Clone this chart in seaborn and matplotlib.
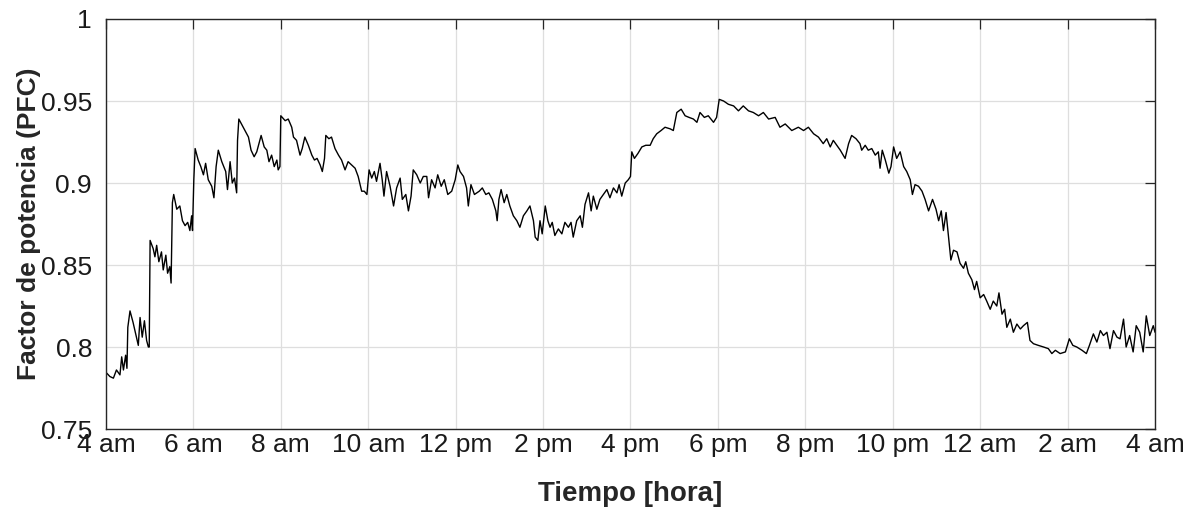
import numpy as np
import pandas as pd
from matplotlib import pyplot as plt
from matplotlib.ticker import FormatStrFormatter
import seaborn as sns

# hours since 4 am
horas = [0.02, 0.09, 0.17, 0.24, 0.32, 0.36, 0.40, 0.45, 0.48, 0.50, 0.55, 0.62, 0.68, 0.74,
         0.78, 0.83, 0.88, 0.93, 0.97, 0.99, 1.01, 1.08, 1.12, 1.16, 1.21, 1.27, 1.31, 1.37,
         1.41, 1.46, 1.49, 1.52, 1.55, 1.62, 1.69, 1.75, 1.81, 1.87, 1.92, 1.96, 1.98, 2.01,
         2.04, 2.11, 2.17, 2.23, 2.28, 2.34, 2.42, 2.47, 2.52, 2.57, 2.65, 2.74, 2.78, 2.84,
         2.89, 2.94, 2.99, 3.01, 3.04, 3.10, 3.18, 3.26, 3.32, 3.39, 3.45, 3.55, 3.62, 3.68,
         3.73, 3.79, 3.85, 3.91, 3.94, 3.98, 4.00, 4.10,
         4.17, 4.25, 4.29, 4.36, 4.44, 4.49, 4.55, 4.63, 4.71, 4.77, 4.83, 4.90, 4.95, 5.00,
         5.03, 5.10, 5.16, 5.24, 5.32, 5.39, 5.47, 5.54, 5.62, 5.70, 5.77, 5.85, 5.91, 5.97,
         6.02, 6.08, 6.14, 6.19, 6.27, 6.32, 6.36, 6.42, 6.50, 6.58, 6.65, 6.73, 6.78, 6.86,
         6.92, 6.98, 7.03, 7.11, 7.19, 7.26, 7.34, 7.38, 7.45, 7.53, 7.59, 7.67, 7.74, 7.82,
         7.91, 7.99, 8.05, 8.10, 8.18, 8.25, 8.29, 8.35, 8.43,
         8.54, 8.61, 8.69, 8.76, 8.84, 8.92, 8.95, 8.99, 9.04, 9.11, 9.17, 9.24, 9.32, 9.40,
         9.47, 9.55, 9.63, 9.70, 9.78, 9.82, 9.88, 9.93, 9.98, 10.05, 10.11, 10.16, 10.21,
         10.27, 10.35, 10.43, 10.50, 10.58, 10.64, 10.69, 10.77, 10.85, 10.90, 10.96, 11.04,
         11.10, 11.15, 11.23, 11.30, 11.38, 11.46, 11.53, 11.61, 11.69, 11.74, 11.80, 11.88,
         11.95, 12.00, 12.03, 12.09, 12.17, 12.26, 12.35, 12.45, 12.52, 12.60, 12.70, 12.79,
         12.91,
         12.98, 13.06, 13.16, 13.25, 13.34, 13.44, 13.52, 13.59, 13.69, 13.78, 13.90, 13.97,
         14.03, 14.13, 14.24, 14.36, 14.47, 14.58, 14.70, 14.81, 14.93, 15.04, 15.16, 15.31,
         15.42, 15.54, 15.69, 15.84, 15.96, 16.07, 16.19, 16.30, 16.41, 16.49, 16.57, 16.64,
         16.72, 16.80, 16.91, 16.99, 17.06, 17.16, 17.25,
         17.29, 17.37, 17.44, 17.52, 17.60, 17.67, 17.71, 17.76, 17.83, 17.91, 17.96, 18.02,
         18.09, 18.17, 18.25, 18.32, 18.40, 18.45, 18.51, 18.59, 18.67, 18.74, 18.82, 18.91,
         18.99, 19.05, 19.11, 19.16, 19.22, 19.27, 19.33, 19.39, 19.47, 19.54, 19.62, 19.67,
         19.73, 19.81, 19.87, 19.92, 20.00, 20.08, 20.15, 20.23, 20.30, 20.38, 20.43, 20.50,
         20.56, 20.61,
         20.69, 20.76, 20.84, 20.92, 20.99, 21.08, 21.14, 21.22, 21.33, 21.45, 21.56, 21.64,
         21.72, 21.83, 21.95, 22.04, 22.12, 22.21, 22.33, 22.43, 22.50, 22.59, 22.67, 22.75,
         22.82, 22.90, 22.97, 23.05, 23.13, 23.20, 23.28, 23.34, 23.42, 23.50, 23.57, 23.65,
         23.73, 23.80, 23.88, 23.96, 24.00]

pfc = [0.784, 0.782, 0.781, 0.786, 0.783, 0.794, 0.786, 0.795, 0.787, 0.812, 0.822, 0.815, 0.808, 0.801,
       0.818, 0.806, 0.816, 0.804, 0.800, 0.800, 0.865, 0.860, 0.855, 0.862, 0.852, 0.858, 0.847, 0.856,
       0.845, 0.849, 0.839, 0.888, 0.893, 0.884, 0.886, 0.877, 0.874, 0.876, 0.871, 0.880, 0.871, 0.902,
       0.921, 0.914, 0.910, 0.905, 0.912, 0.902, 0.898, 0.891, 0.910, 0.920, 0.913, 0.907, 0.896, 0.913,
       0.900, 0.903, 0.894, 0.926, 0.939, 0.936, 0.932, 0.928, 0.920, 0.916, 0.919, 0.929, 0.922, 0.920,
       0.913, 0.917, 0.910, 0.914, 0.908, 0.910, 0.941, 0.938,
       0.939, 0.934, 0.928, 0.926, 0.917, 0.921, 0.928, 0.923, 0.917, 0.914, 0.915, 0.911, 0.907, 0.915,
       0.929, 0.927, 0.928, 0.921, 0.917, 0.914, 0.908, 0.913, 0.911, 0.909, 0.904, 0.895, 0.895, 0.893,
       0.908, 0.903, 0.907, 0.901, 0.912, 0.902, 0.892, 0.907, 0.898, 0.886, 0.897, 0.903, 0.890, 0.893,
       0.883, 0.892, 0.908, 0.905, 0.900, 0.904, 0.904, 0.891, 0.902, 0.897, 0.905, 0.898, 0.902, 0.893,
       0.895, 0.902, 0.911, 0.907, 0.904, 0.897, 0.886, 0.899, 0.893,
       0.895, 0.897, 0.893, 0.894, 0.890, 0.883, 0.877, 0.890, 0.896, 0.888, 0.893, 0.886, 0.880, 0.877,
       0.873, 0.880, 0.883, 0.886, 0.877, 0.867, 0.865, 0.877, 0.869, 0.886, 0.877, 0.873, 0.876,
       0.868, 0.872, 0.869, 0.876, 0.873, 0.876, 0.867, 0.877, 0.880, 0.873, 0.887, 0.894,
       0.883, 0.892, 0.884, 0.890, 0.893, 0.896, 0.891, 0.897, 0.894, 0.899, 0.892, 0.900,
       0.902, 0.904, 0.919, 0.915, 0.918, 0.922, 0.923, 0.923, 0.927, 0.930, 0.932, 0.934,
       0.933,
       0.932, 0.943, 0.945, 0.941, 0.940, 0.939, 0.937, 0.943, 0.940, 0.941, 0.937, 0.940,
       0.951, 0.950, 0.948, 0.947, 0.944, 0.947, 0.944, 0.943, 0.941, 0.943, 0.939, 0.940,
       0.934, 0.936, 0.932, 0.934, 0.932, 0.934, 0.930, 0.928, 0.924, 0.927, 0.922, 0.926,
       0.923, 0.920, 0.915, 0.924, 0.929, 0.927, 0.924,
       0.920, 0.923, 0.920, 0.921, 0.917, 0.919, 0.909, 0.920, 0.914, 0.906, 0.910, 0.922,
       0.915, 0.919, 0.910, 0.907, 0.902, 0.893, 0.899, 0.898, 0.895, 0.890, 0.883, 0.890,
       0.884, 0.877, 0.883, 0.871, 0.882, 0.869, 0.853, 0.859, 0.858, 0.851, 0.848, 0.852,
       0.845, 0.841, 0.835, 0.840, 0.830, 0.832, 0.828, 0.823, 0.828, 0.825, 0.833, 0.820,
       0.823, 0.812,
       0.817, 0.809, 0.814, 0.811, 0.813, 0.815, 0.804, 0.802, 0.801, 0.800, 0.799, 0.796,
       0.798, 0.796, 0.797, 0.805, 0.801, 0.800, 0.798, 0.796, 0.801, 0.808, 0.803, 0.810,
       0.807, 0.809, 0.799, 0.810, 0.806, 0.805, 0.817, 0.800, 0.807, 0.797, 0.813, 0.809,
       0.797, 0.819, 0.807, 0.813, 0.809]

ticks_x = [0, 2, 4, 6, 8, 10, 12, 14, 16, 18, 20, 22, 24]
etiquetas_x = ['4 am', '6 am', '8 am', '10 am', '12 pm', '2 pm', '4 pm', '6 pm',
               '8 pm', '10 pm', '12 am', '2 am', '4 am']
ticks_y = [0.75, 0.8, 0.85, 0.9, 0.95, 1.0]

df = pd.DataFrame({'hora': horas, 'pfc': pfc})

sns.set_style('whitegrid')
plt.rcParams['font.family'] = ['Liberation Sans', 'DejaVu Sans']

fig = plt.figure(figsize=(12, 5.08), dpi=100)
ax = fig.add_axes([0.0883, 0.1555, 0.8742, 0.8071])
sns.lineplot(x='hora', y='pfc', data=df, ax=ax, color='black', linewidth=1.0,
             estimator=None, sort=False)

ax.set_xlim(0, 24)
ax.set_ylim(0.75, 1.0)
ax.set_xticks(ticks_x)
ax.set_xticklabels(etiquetas_x)
ax.set_yticks(ticks_y)
ax.yaxis.set_major_formatter(FormatStrFormatter('%g'))
ax.grid(True, color='#dedede', linewidth=0.9)
for s in ax.spines.values():
    s.set_visible(True)
    s.set_color('#262626')
    s.set_linewidth(1.0)
ax.tick_params(axis='both', direction='in', length=7, width=0.9, colors='#262626',
               labelsize=19, labelcolor='#1a1a1a', top=True, right=True)
ax.tick_params(axis='x', pad=3)
ax.tick_params(axis='y', pad=10)
ax.set_xlabel('Tiempo [hora]', fontsize=20, fontweight='bold', labelpad=17)
ax.set_ylabel('Factor de potencia (PFC)', fontsize=19, fontweight='bold', labelpad=0)

fig.savefig('out.png', dpi=100)
